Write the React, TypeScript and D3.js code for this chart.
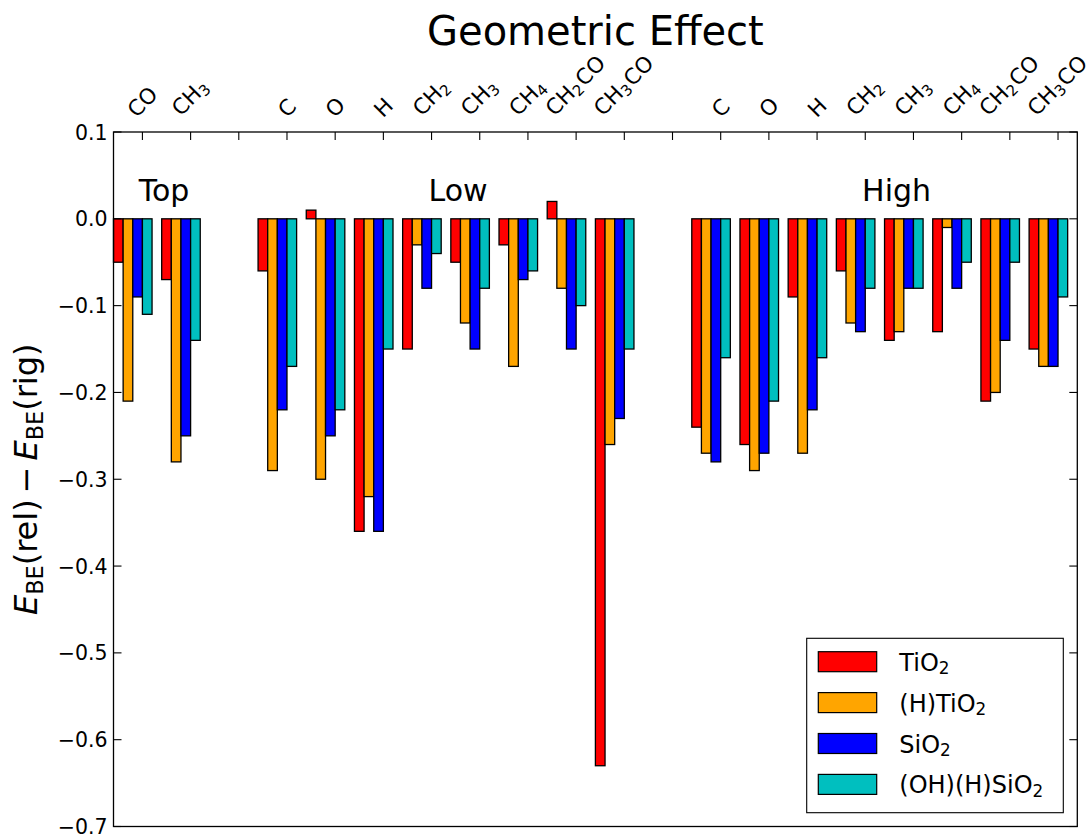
import React, { useEffect, useRef } from "react";
import * as d3 from "d3";

// ---- data ----
const siteLabels: string[] = [
  "CO", "CH_3", "", "C", "O", "H", "CH_2", "CH_3", "CH_4", "CH_2CO", "CH_3CO",
  "", "C", "O", "H", "CH_2", "CH_3", "CH_4", "CH_2CO", "CH_3CO",
];
const regionNames = ["Top", "Low", "High"];
const regionX = [0.45, 6.55, 15.65];
const regionY = 0.02;

const seriesNames = ["TiO_2", "(H)TiO_2", "SiO_2", "(OH)(H)SiO_2"];
const seriesColors = ["#ff0000", "#ffa500", "#0000ff", "#00bfbf"];

const tio2: (number | null)[] = [
  -0.05, -0.07, null, -0.06, 0.01, -0.36, -0.15, -0.05, -0.03, 0.02, -0.63,
  null, -0.24, -0.26, -0.09, -0.06, -0.14, -0.13, -0.21, -0.15,
];
const hTio2: (number | null)[] = [
  -0.21, -0.28, null, -0.29, -0.3, -0.32, -0.03, -0.12, -0.17, -0.08, -0.26,
  null, -0.27, -0.29, -0.27, -0.12, -0.13, -0.01, -0.2, -0.17,
];
const sio2: (number | null)[] = [
  -0.09, -0.25, null, -0.22, -0.25, -0.36, -0.08, -0.15, -0.07, -0.15, -0.23,
  null, -0.28, -0.27, -0.22, -0.13, -0.08, -0.08, -0.14, -0.17,
];
const ohHSio2: (number | null)[] = [
  -0.11, -0.14, null, -0.17, -0.22, -0.15, -0.04, -0.08, -0.06, -0.1, -0.15,
  null, -0.16, -0.21, -0.16, -0.08, -0.08, -0.05, -0.05, -0.09,
];
const seriesValues = [tio2, hTio2, sio2, ohHSio2];

const yTicks = [0.1, 0.0, -0.1, -0.2, -0.3, -0.4, -0.5, -0.6, -0.7];
const titleText = "Geometric Effect";

const FONT = "'DejaVu Sans', 'Liberation Sans', sans-serif";

// add text with "_d" subscripts as tspans
function addRich(text: any, str: string, fs: number) {
  const parts = str.split(/(_\d)/).filter((p) => p.length > 0);
  let shifted = false;
  parts.forEach((p) => {
    if (p.startsWith("_")) {
      text
        .append("tspan")
        .attr("font-size", fs * 0.7)
        .attr("dy", fs * 0.15)
        .text(p.slice(1));
      shifted = true;
    } else {
      const t = text.append("tspan").text(p);
      if (shifted) {
        t.attr("dy", -fs * 0.15).attr("dx", fs * 0.06);
        shifted = false;
      }
    }
  });
}

export default function App() {
  const ref = useRef<SVGSVGElement | null>(null);

  useEffect(() => {
    const W = 1086;
    const H = 834;
    const left = 113.5;
    const right = 1077.3;
    const top = 132;
    const bottom = 826.5;

    const svg = d3.select(ref.current);
    svg.selectAll("*").remove();
    svg.append("rect").attr("width", W).attr("height", H).attr("fill", "#fff");

    const x = d3.scaleLinear().domain([-0.6, 19.4]).range([left, right]);
    const y = d3.scaleLinear().domain([-0.7, 0.1]).range([bottom, top]);
    const bw = x(0.2) - x(0);

    // bars
    const gBars = svg.append("g");
    seriesValues.forEach((vals, k) => {
      const data = vals
        .map((v, i) => ({ v, i }))
        .filter((d) => d.v !== null) as { v: number; i: number }[];
      gBars
        .selectAll(null)
        .data(data)
        .enter()
        .append("rect")
        .attr("x", (d) => x(d.i - 0.6 + 0.2 * k))
        .attr("width", bw)
        .attr("y", (d) => Math.min(y(d.v), y(0)))
        .attr("height", (d) => Math.abs(y(d.v) - y(0)))
        .attr("fill", seriesColors[k])
        .attr("stroke", "#000")
        .attr("stroke-width", 1.3);
    });

    // region labels
    regionNames.forEach((name, i) => {
      svg
        .append("text")
        .attr("x", x(regionX[i]))
        .attr("y", y(regionY))
        .attr("text-anchor", "middle")
        .attr("font-family", FONT)
        .attr("font-size", 30)
        .attr("fill", "#000")
        .text(name);
    });

    // frame
    svg
      .append("rect")
      .attr("x", left)
      .attr("y", top)
      .attr("width", right - left)
      .attr("height", bottom - top)
      .attr("fill", "none")
      .attr("stroke", "#000")
      .attr("stroke-width", 1.3);

    // y ticks (inward both sides) and labels
    const tl = 8;
    yTicks.forEach((t) => {
      const yy = y(t);
      svg.append("line").attr("x1", left).attr("x2", left + tl).attr("y1", yy).attr("y2", yy)
        .attr("stroke", "#000").attr("stroke-width", 1.1);
      svg.append("line").attr("x1", right - tl).attr("x2", right).attr("y1", yy).attr("y2", yy)
        .attr("stroke", "#000").attr("stroke-width", 1.1);
      const lbl = Math.abs(t) < 1e-9 ? "0.0" : (t < 0 ? "\u2212" : "") + Math.abs(t).toFixed(1);
      svg
        .append("text")
        .attr("x", left - 6)
        .attr("y", yy + 7.5)
        .attr("text-anchor", "end")
        .attr("font-family", FONT)
        .attr("font-size", 20.5)
        .attr("fill", "#000")
        .text(lbl);
    });

    // x ticks on top (inward) and rotated labels
    const fsX = 21.5;
    siteLabels.forEach((lab, i) => {
      const xx = x(i);
      svg.append("line").attr("x1", xx).attr("x2", xx).attr("y1", top).attr("y2", top + tl)
        .attr("stroke", "#000").attr("stroke-width", 1.1);
      if (!lab) return;
      const t = svg
        .append("text")
        .attr("font-family", FONT)
        .attr("font-size", fsX)
        .attr("fill", "#000");
      addRich(t, lab, fsX);
      const bb = (t.node() as SVGTextElement).getBBox();
      const cx = bb.x + bb.width / 2;
      const cy = bb.y + bb.height / 2;
      const half = (bb.width + bb.height) / (2 * Math.SQRT2);
      const bottomY = 122;
      t.attr(
        "transform",
        `translate(${xx},${bottomY - half}) rotate(-45) translate(${-cx},${-cy})`
      );
    });

    // title
    svg
      .append("text")
      .attr("x", (left + right) / 2)
      .attr("y", 45)
      .attr("text-anchor", "middle")
      .attr("font-family", FONT)
      .attr("font-size", 40)
      .attr("fill", "#000")
      .text(titleText);

    // y label
    const fsY = 32;
    const yl = svg
      .append("text")
      .attr("transform", `translate(37,${(top + bottom) / 2}) rotate(-90)`)
      .attr("text-anchor", "middle")
      .attr("font-family", FONT)
      .attr("font-size", fsY)
      .attr("fill", "#000");
    yl.append("tspan").attr("font-style", "italic").text("E");
    yl.append("tspan").attr("font-size", fsY * 0.7).attr("dy", fsY * 0.18).text("BE");
    yl.append("tspan").attr("dy", -fsY * 0.18).text("(rel)");
    yl.append("tspan").attr("dx", 6).text("\u2212");
    yl.append("tspan").attr("dx", 6).attr("font-style", "italic").text("E");
    yl.append("tspan").attr("font-size", fsY * 0.7).attr("dy", fsY * 0.18).text("BE");
    yl.append("tspan").attr("dy", -fsY * 0.18).text("(rig)");

    // legend
    const lg = svg.append("g");
    const lx0 = 806.7;
    const ly0 = 638.3;
    lg.append("rect")
      .attr("x", lx0)
      .attr("y", ly0)
      .attr("width", 1063.3 - lx0)
      .attr("height", 812.7 - ly0)
      .attr("fill", "#fff")
      .attr("stroke", "#000")
      .attr("stroke-width", 1.1);
    seriesNames.forEach((name, k) => {
      const cy = 661.7 + k * 40.9;
      lg.append("rect")
        .attr("x", 818.3)
        .attr("y", cy - 10)
        .attr("width", 58.4)
        .attr("height", 20)
        .attr("fill", seriesColors[k])
        .attr("stroke", "#000")
        .attr("stroke-width", 1.2);
      const t = lg
        .append("text")
        .attr("x", 899.3)
        .attr("y", cy + 9)
        .attr("font-family", FONT)
        .attr("font-size", 24)
        .attr("fill", "#000");
      addRich(t, name, 24);
    });
  }, []);

  return (
    <svg
      ref={ref}
      width={1086}
      height={834}
      style={{ position: "absolute", left: 0, top: 0, display: "block" }}
    />
  );
}
